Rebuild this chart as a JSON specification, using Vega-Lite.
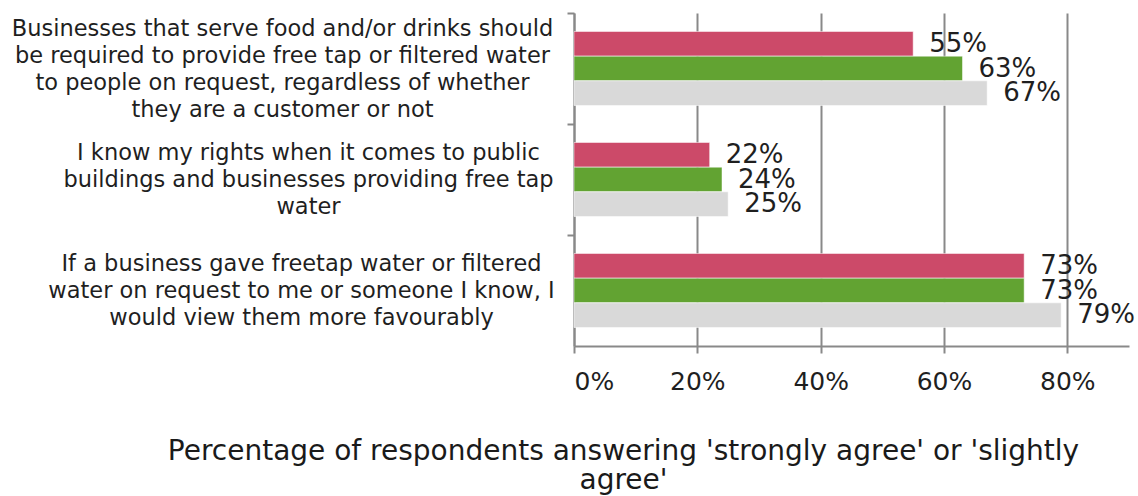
{
  "$schema": "https://vega.github.io/schema/vega-lite/v6.json",
  "width": 555,
  "height": 333,
  "autosize": {"type": "none"},
  "padding": {"left": 574, "top": 13, "right": 9, "bottom": 150},
  "background": "white",
  "config": {"view": {"stroke": null}, "font": "DejaVu Sans"},
  "data": {
    "values": [
      {"q": "Businesses that serve food and/or drinks should|be required to provide free tap or filtered water|to people on request, regardless of whether|they are a customer or not", "s": "A", "v": 0.55},
      {"q": "Businesses that serve food and/or drinks should|be required to provide free tap or filtered water|to people on request, regardless of whether|they are a customer or not", "s": "B", "v": 0.63},
      {"q": "Businesses that serve food and/or drinks should|be required to provide free tap or filtered water|to people on request, regardless of whether|they are a customer or not", "s": "C", "v": 0.67},
      {"q": "I know my rights when it comes to public|buildings and businesses providing free tap|water", "s": "A", "v": 0.22},
      {"q": "I know my rights when it comes to public|buildings and businesses providing free tap|water", "s": "B", "v": 0.24},
      {"q": "I know my rights when it comes to public|buildings and businesses providing free tap|water", "s": "C", "v": 0.25},
      {"q": "If a business gave freetap water or filtered|water on request to me or someone I know, I|would view them more favourably", "s": "A", "v": 0.73},
      {"q": "If a business gave freetap water or filtered|water on request to me or someone I know, I|would view them more favourably", "s": "B", "v": 0.73},
      {"q": "If a business gave freetap water or filtered|water on request to me or someone I know, I|would view them more favourably", "s": "C", "v": 0.79}
    ]
  },
  "encoding": {
    "y": {
      "field": "q",
      "type": "nominal",
      "sort": null,
      "scale": {"paddingInner": 0, "paddingOuter": 0},
      "axis": {
        "title": null,
        "bandPosition": 0,
        "labelExpr": "split(datum.label, '|')",
        "labelFont": "DejaVu Sans",
        "labelFontSize": 22.5,
        "labelColor": "#1f1f1f",
        "labelAlign": "center",
        "labelBaseline": "middle",
        "labelLineHeight": 27,
        "labelLimit": 0,
        "labelPadding": {
          "condition": [
            {"test": "indexof(datum.value, 'I know') == 0", "value": 259},
            {"test": "indexof(datum.value, 'If a') == 0", "value": 266}
          ],
          "value": 285
        },
        "labelOffset": {
          "condition": {"test": "indexof(datum.value, 'Businesses') == 0", "value": -40},
          "value": -27
        },
        "domainColor": "#898989",
        "domainWidth": 2,
        "tickColor": "#898989",
        "tickWidth": 2,
        "tickSize": 7,
        "grid": false
      }
    },
    "yOffset": {
      "field": "s",
      "type": "nominal",
      "sort": null,
      "scale": {"paddingInner": 0, "paddingOuter": 0.75}
    },
    "x": {
      "field": "v",
      "type": "quantitative",
      "scale": {"domain": [0, 0.9], "nice": false},
      "axis": {
        "values": [0, 0.2, 0.4, 0.6, 0.8],
        "format": ".0%",
        "grid": true,
        "gridColor": "#898989",
        "gridWidth": 2,
        "domainColor": "#898989",
        "domainWidth": 2,
        "tickColor": "#898989",
        "tickWidth": 2,
        "tickSize": 7,
        "labelFont": "DejaVu Sans",
        "labelFontSize": 25,
        "labelColor": "#1f1f1f",
        "labelPadding": 16,
        "title": ["Percentage of respondents answering 'strongly agree' or 'slightly", "agree'"],
        "titleFont": "DejaVu Sans",
        "titleFontSize": 28,
        "titleFontWeight": "normal",
        "titleColor": "#1a1a1a",
        "titleAlign": "center",
        "titleBaseline": "alphabetic",
        "titleX": 49,
        "titleY": 113,
        "titleLineHeight": 29
      }
    }
  },
  "layer": [
    {
      "mark": {"type": "bar", "stroke": "white", "strokeWidth": 0.5},
      "encoding": {
        "color": {
          "field": "s",
          "type": "nominal",
          "sort": null,
          "scale": {"domain": ["A", "B", "C"], "range": ["#cc4a69", "#62a332", "#d9d9d9"]},
          "legend": null
        }
      }
    },
    {
      "mark": {"type": "text", "align": "left", "baseline": "middle", "dx": 16, "fontSize": 26, "font": "DejaVu Sans", "color": "#1f1f1f"},
      "encoding": {
        "text": {"field": "v", "type": "quantitative", "format": ".0%"}
      }
    }
  ]
}
